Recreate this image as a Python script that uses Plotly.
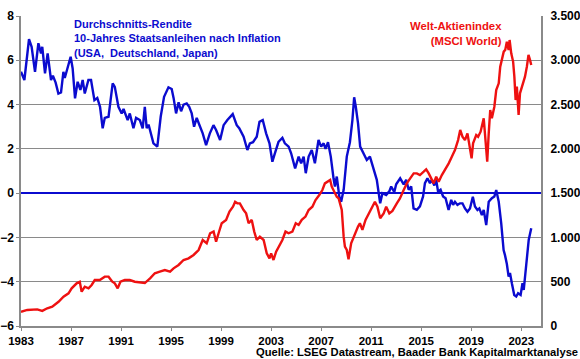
import plotly.graph_objects as go

# Blue series: average real 10y government bond yield (left axis, %)
blue_years = [1983.0,1983.27,1983.64,1983.85,1984.12,1984.39,1984.6,1984.7,1984.92,1985.13,1985.4,1985.55,1985.77,1985.99,1986.2,1986.39,1986.5,1986.79,1986.97,1987.13,1987.32,1987.53,1987.75,1987.93,1988.1,1988.39,1988.6,1988.87,1989.1,1989.32,1989.53,1989.7,1990.0,1990.33,1990.5,1990.79,1991.05,1991.2,1991.53,1991.7,1991.99,1992.2,1992.5,1992.73,1992.9,
              1993.05,1993.2,1993.59,1993.9,1994.17,1994.44,1994.79,1995.05,1995.2,1995.4,1995.6,1995.8,1996.0,1996.25,1996.45,1996.65,1996.84,1997.05,1997.25,1997.53,1997.8,1998.1,1998.39,1998.6,1998.92,1999.2,1999.5,1999.93,2000.25,2000.45,2000.8,2001.1,2001.3,2001.55,2001.85,2002.07,2002.33,2002.6,2002.87,
              2003.1,2003.3,2003.59,2003.9,2004.1,2004.4,2004.6,2004.92,2005.2,2005.4,2005.6,2005.77,2006.0,2006.25,2006.5,2006.79,2007.0,2007.2,2007.35,2007.55,2007.77,2007.99,2008.1,2008.25,2008.45,2008.6,2008.8,2009.05,2009.3,2009.5,2009.64,2009.77,2009.95,2010.12,2010.4,2010.65,2010.9,2011.2,2011.45,2011.72,2011.9,2012.2,2012.45,2012.6,2012.85,
              2013.0,2013.32,2013.6,2013.8,2014.0,2014.2,2014.39,2014.65,2014.9,2015.15,2015.3,2015.5,2015.7,2015.85,2016.05,2016.2,2016.35,2016.55,2016.75,2016.95,2017.19,2017.4,2017.55,2017.7,2017.9,2018.1,2018.3,2018.5,2018.7,2018.9,2019.13,2019.3,2019.5,2019.65,2019.85,2020.0,2020.2,2020.4,2020.65,2020.85,2021.0,2021.2,2021.4,2021.59,2021.7,2021.85,2021.99,2022.1,2022.25,2022.44,2022.6,2022.75,2022.95,2023.1,2023.2,2023.4,2023.6,2023.8]
blue_values = [5.48,5.11,6.95,6.61,5.48,6.77,6.31,6.61,5.41,6.31,5.11,5.3,4.99,4.5,4.55,5.48,5.2,5.86,6.16,5.63,4.28,5.03,4.66,5.11,4.5,5.11,5.11,4.2,4.3,3.9,2.93,3.4,3.45,4.96,4.8,3.9,3.6,3.8,3.3,3.6,2.93,3.4,3.3,2.93,3.9,
               2.93,3.1,2.25,2.1,3.45,4.35,4.78,4.7,4.3,3.6,4.1,3.7,4.0,4.05,3.9,3.6,3.0,3.4,3.1,2.7,2.17,2.7,3.07,2.85,2.4,3.07,3.3,3.57,3.07,2.93,2.55,1.95,2.25,2.3,2.55,3.22,3.3,2.7,2.25,
               1.42,1.8,2.32,2.5,2.25,2.1,1.8,1.12,1.65,1.35,1.65,0.9,1.65,1.95,1.35,2.4,2.1,2.25,2.0,2.3,1.65,0.67,0.3,0.75,-0.15,-0.39,0.15,1.65,2.3,3.3,4.33,3.9,3.15,2.1,1.8,1.5,1.65,1.12,0.6,-0.46,0.0,-0.08,0.08,0.3,0.05,
               0.4,0.67,0.4,0.6,0.15,0.3,-0.69,-0.75,-0.6,-0.15,0.45,0.67,0.45,0.6,0.35,0.6,0.06,0.15,-0.15,-0.23,-0.76,-0.3,-0.53,-0.39,-0.53,-0.46,-0.46,-0.69,-0.84,-0.69,-0.16,-0.6,-0.76,-0.69,-0.99,-0.76,-1.44,-0.39,-0.23,-0.15,0.14,-0.39,-1.37,-2.57,-2.8,-3.2,-3.77,-3.6,-4.07,-4.6,-4.67,-4.52,-4.6,-4.07,-4.37,-3.17,-2.1,-1.59]

# Red series: MSCI World index (right axis)
red_years = [1983.0,1983.5,1984.3,1984.7,1985.1,1985.5,1986.0,1986.4,1986.8,1987.05,1987.45,1987.7,1987.85,1988.1,1988.4,1988.65,1988.9,1989.3,1989.7,1990.0,1990.3,1990.5,1990.73,1990.95,1991.3,1991.7,1992.1,1992.5,1992.9,
             1993.32,1993.7,1994.1,1994.5,1994.92,1995.2,1995.6,1996.0,1996.4,1996.8,1997.2,1997.53,1997.85,1998.12,1998.4,1998.6,1998.8,1999.05,1999.4,1999.67,1999.95,2000.12,2000.3,2000.5,2000.8,2001.0,2001.2,2001.45,2001.65,2001.85,2002.1,2002.4,2002.65,2002.87,
             2003.0,2003.19,2003.4,2003.6,2003.9,2004.15,2004.4,2004.7,2004.97,2005.2,2005.45,2005.75,2006.0,2006.3,2006.55,2006.85,2007.1,2007.3,2007.55,2007.72,2007.85,2008.05,2008.25,2008.4,2008.65,2008.8,2008.9,2009.05,2009.19,2009.4,2009.65,2009.95,2010.1,2010.3,2010.55,2010.8,2011.1,2011.3,2011.5,2011.72,2012.0,2012.2,2012.45,2012.7,
             2013.05,2013.3,2013.6,2013.85,2014.12,2014.4,2014.65,2014.9,2015.2,2015.4,2015.6,2015.8,2016.0,2016.2,2016.4,2016.65,2016.9,2017.2,2017.45,2017.7,2017.95,2018.12,2018.3,2018.5,2018.7,2018.9,2019.03,2019.15,2019.4,2019.55,2019.75,2020.0,2020.15,2020.28,2020.4,2020.52,2020.65,2020.85,2021.0,2021.2,2021.32,2021.45,2021.6,2021.72,2021.85,2021.99,2022.07,2022.2,2022.35,2022.45,2022.55,2022.65,2022.79,2022.9,2023.05,2023.2,2023.3,2023.45,2023.58,2023.7,2023.8]
red_values = [161,181,188,171,200,218,274,331,369,425,482,500,387,444,425,463,519,519,557,557,500,482,425,500,519,519,500,490,485,
              538,595,613,632,613,651,689,745,764,802,858,971,934,1047,1066,952,1047,1160,1198,1291,1347,1403,1385,1385,1309,1272,1160,1198,1066,971,1009,971,821,764,
              821,745,840,896,971,1066,1047,1066,1160,1141,1198,1235,1309,1347,1422,1478,1535,1610,1629,1648,1573,1516,1460,1441,1309,1009,896,858,753,934,1028,1122,1160,1085,1198,1272,1347,1403,1347,1216,1272,1347,1272,1300,
              1385,1441,1535,1610,1667,1723,1723,1704,1742,1769,1723,1667,1610,1686,1629,1704,1761,1836,1911,1986,2099,2213,2137,2099,2175,1986,1893,2062,2156,2137,2194,2345,2062,1855,2175,2439,2345,2476,2664,2740,2928,3022,3098,3117,3210,3117,3229,3079,2985,2815,2551,2702,2382,2627,2702,2777,2815,2928,3060,3004,2947]

x_ticks = [1983,1987,1991,1995,1999,2003,2007,2011,2015,2019,2023]
left_ticks = [-6,-4,-2,0,2,4,6,8]
right_ticks = [0,500,1000,1500,2000,2500,3000,3500]

BLUE = "#0B0BCF"
RED = "#EE1111"
GRID = "#8a8a8a"
FONT = "Arial, Liberation Sans, sans-serif"
TICKFONT = dict(family=FONT, size=12, color="black", weight="bold")

fig = go.Figure()
fig.add_trace(go.Scatter(x=red_years, y=red_values, mode="lines", yaxis="y2",
                         line=dict(color=RED, width=2.4), showlegend=False))
fig.add_trace(go.Scatter(x=blue_years, y=blue_values, mode="lines", yaxis="y",
                         line=dict(color=BLUE, width=2.4), showlegend=False))

fig.update_layout(
    width=580, height=359,
    margin=dict(l=21, r=39, t=16, b=33, autoexpand=False),
    paper_bgcolor="white", plot_bgcolor="white",
    separators=",.",
    font=dict(family=FONT, size=12, color="black"),
    xaxis=dict(range=[1983, 2024.58], tickvals=x_ticks, ticks="outside", ticklen=3,
               tickcolor=GRID, showgrid=False, showline=True, linecolor=GRID, linewidth=1.5,
               mirror=False, zeroline=False, automargin=False,
               tickfont=dict(family=FONT, size=11.5, color="black", weight="bold")),
    yaxis=dict(range=[-6, 8], tickvals=left_ticks, ticks="outside", ticklen=3, tickcolor=GRID,
               showgrid=True, gridcolor=GRID, gridwidth=1.2, showline=True, linecolor=GRID,
               linewidth=1.5, mirror=True, zeroline=True, zerolinecolor=BLUE, zerolinewidth=2,
               automargin=False, tickfont=TICKFONT),
    yaxis2=dict(range=[0, 3500], tickvals=right_ticks, tickformat=",d", overlaying="y",
                side="right", showgrid=False, zeroline=False, showline=False, ticks="outside",
                ticklen=6, tickcolor="rgba(0,0,0,0)", automargin=False, tickfont=TICKFONT),
)

fig.add_annotation(xref="paper", yref="paper", x=0.098, y=1.0, xanchor="left", yanchor="top",
                   align="left", showarrow=False,
                   text="Durchschnitts-Rendite<br>10-Jahres Staatsanleihen nach Inflation<br>(USA,  Deutschland, Japan)",
                   font=dict(family=FONT, size=11, color=BLUE, weight="bold"))
fig.add_annotation(xref="paper", yref="paper", x=0.928, y=0.995, xanchor="right", yanchor="top",
                   align="right", showarrow=False,
                   text="Welt-Aktienindex<br>(MSCI World)",
                   font=dict(family=FONT, size=11.3, color=RED, weight="bold"))
fig.add_annotation(xref="paper", yref="paper", x=1.073, y=-0.107, xanchor="right", yanchor="bottom",
                   showarrow=False, borderpad=0,
                   text="Quelle: LSEG Datastream, Baader Bank Kapitalmarktanalyse",
                   font=dict(family=FONT, size=11.2, color="black", weight="bold"))

fig.write_html("out.html", config={"displayModeBar": False},
               post_script="document.body.style.margin='0';document.body.style.overflow='hidden';")
